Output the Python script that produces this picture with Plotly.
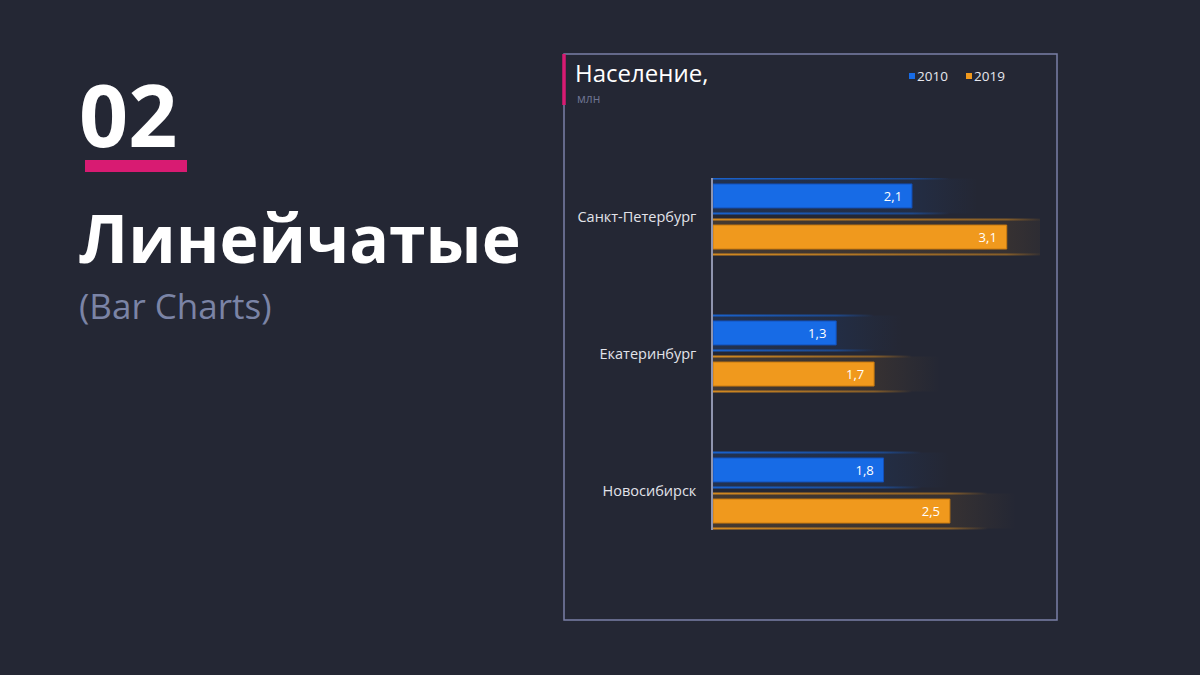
import plotly.graph_objects as go

# ---------------- data ----------------
cities = ["Санкт-Петербург", "Екатеринбург", "Новосибирск"]
years = ["2010", "2019"]
pop_2010 = [2.1, 1.3, 1.8]
pop_2019 = [3.1, 1.7, 2.5]

# ---------------- style ----------------
BG = "#242734"
BLUE = "#176be6"
ORANGE = "#f0991d"
PINK = "#d81b72"
BORDER = "#7a80a6"
MUTED = "#7b84a6"
FONT = "Open Sans"
series_vals = [pop_2010, pop_2019]
series_colors = [BLUE, ORANGE]
series_rgb = [(23, 107, 230), (240, 153, 29)]
series_edge = ["#1450b8", "#c97a10"]

W, H = 1200, 675


def px(x):
    return x / W


def py(y):
    return 1 - y / H


# plot area in pixels
X0, X1 = 713, 1040
Y0, Y1 = 178, 530
PX_PER_UNIT = 94.75
CAT_PX = 137.0
x_max = (X1 - X0) / PX_PER_UNIT
y_top = -(216.5 - Y0) / CAT_PX
y_bot = 2 + (Y1 - 490.5) / CAT_PX

idx = list(range(len(cities)))
slot = 0.30
half_gap = 17.5 / CAT_PX
line_th = 2.0 / CAT_PX

fig = go.Figure()

# glow decoration (base subplot, under the bars)
for k, (vals, rgb) in enumerate(zip(series_vals, series_rgb)):
    r, g, b = rgb
    for i, v in zip(idx, vals):
        c = i + (k - 0.5) * slot
        xe = v + 0.7
        fig.add_trace(go.Scatter(
            x=[0, xe, xe, 0, 0],
            y=[c - half_gap, c - half_gap, c + half_gap, c + half_gap, c - half_gap],
            mode="none", fill="toself",
            fillgradient=dict(type="horizontal", colorscale=[
                [0, f"rgba({r},{g},{b},0.16)"],
                [v / xe, f"rgba({r},{g},{b},0.09)"],
                [1, f"rgba({r},{g},{b},0)"]]),
            hoverinfo="skip", showlegend=False, xaxis="x", yaxis="y"))
        xl = v + 0.4
        for sgn in (-1, 1):
            yy = c + sgn * half_gap
            fig.add_trace(go.Scatter(
                x=[0, xl, xl, 0, 0],
                y=[yy - line_th / 2, yy - line_th / 2, yy + line_th / 2, yy + line_th / 2, yy - line_th / 2],
                mode="none", fill="toself",
                fillgradient=dict(type="horizontal", colorscale=[
                    [0, f"rgba({r},{g},{b},0.85)"],
                    [v / xl, f"rgba({r},{g},{b},0.45)"],
                    [1, f"rgba({r},{g},{b},0)"]]),
                hoverinfo="skip", showlegend=False, xaxis="x", yaxis="y"))

# bars (overlay subplot, drawn above the glow)
for k in range(len(years)):
    fig.add_trace(go.Bar(
        y=idx, x=series_vals[k], orientation="h", name=years[k],
        marker=dict(color=series_colors[k], line=dict(color=series_edge[k], width=1)),
        texttemplate="%{x:.1f}\u00a0\u00a0", textposition="inside", insidetextanchor="end",
        textfont=dict(color="white", size=16, family=FONT),
        hoverinfo="skip", showlegend=False, xaxis="x", yaxis="y2"))

shapes = [
    # chart card border
    dict(type="rect", xref="paper", yref="paper", x0=px(564), x1=px(1057), y0=py(620), y1=py(54),
         line=dict(color=BORDER, width=1.5), fillcolor="rgba(0,0,0,0)", layer="below"),
    # pink accent on the card
    dict(type="line", xref="paper", yref="paper", x0=px(564), x1=px(564), y0=py(54), y1=py(105),
         line=dict(color=PINK, width=3.5)),
    # pink bar under "02"
    dict(type="rect", xref="paper", yref="paper", x0=px(85), x1=px(187), y0=py(172), y1=py(160),
         line=dict(width=0), fillcolor=PINK),
]


def ann(text, x, y, size, color, anchor="left"):
    return dict(text=text, xref="paper", yref="paper", x=px(x), y=py(y),
                xanchor=anchor, yanchor="middle", showarrow=False,
                font=dict(family=FONT, size=size, color=color))


annotations = [
    ann("<b>02</b>", 77, 113, 86, "white"),
    ann("<b>Линейчатые</b>", 77, 237, 66, "white"),
    ann("(Bar Charts)", 77, 305, 35, MUTED),
    ann("Население,", 573, 73, 24, "white"),
    ann("млн", 575, 98, 12, "#6f7593"),
]

# legend (squares + labels)
legend_sq_x = [909, 966]
for k in range(len(years)):
    sx = legend_sq_x[k]
    shapes.append(dict(type="rect", xref="paper", yref="paper", x0=px(sx), x1=px(sx + 6),
                       y0=py(79), y1=py(73), line=dict(width=0), fillcolor=series_colors[k]))
    annotations.append(ann(years[k], sx + 6, 76, 13.5, "#e6e7ee"))

fig.update_layout(
    width=W, height=H,
    margin=dict(l=0, r=0, t=0, b=0),
    paper_bgcolor=BG, plot_bgcolor=BG,
    separators=", ",
    barmode="group", bargap=0.40, bargroupgap=0.4167,
    showlegend=False,
    font=dict(family=FONT, color="white"),
    xaxis=dict(domain=[px(X0), px(X1)], range=[0, x_max], visible=False, fixedrange=True),
    yaxis=dict(domain=[py(Y1), py(Y0)], range=[y_bot, y_top], visible=False, fixedrange=True),
    yaxis2=dict(overlaying="y", range=[y_bot, y_top], showgrid=False, zeroline=False,
                showline=True, linecolor="#8f94ae", linewidth=1.5,
                tickmode="array", tickvals=idx, ticktext=cities,
                ticks="outside", ticklen=12, tickcolor="rgba(0,0,0,0)",
                tickfont=dict(family=FONT, size=14.5, color="#e2e3ea"), fixedrange=True),
    shapes=shapes,
    annotations=annotations,
)

fig.write_html("out.html")
